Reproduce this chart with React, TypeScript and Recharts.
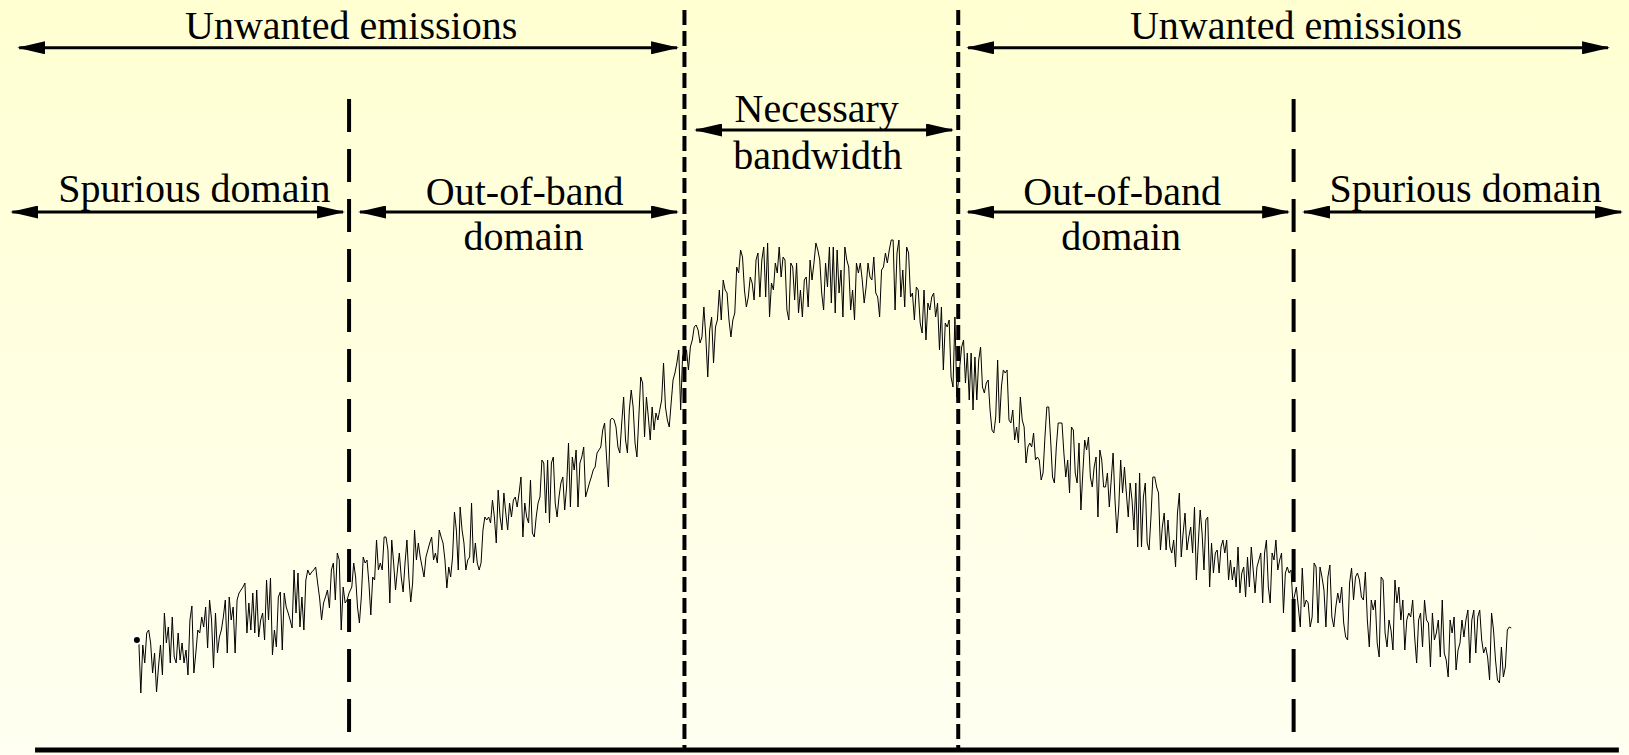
import React from 'react';
import { LineChart, Line, XAxis, YAxis, ReferenceLine, ReferenceDot } from 'recharts';

// emission level in dB, one list per frequency region
const spuriousLeft = [
  -64.0, -64.2, -69.3, -64.5, -66.3, -63.3, -63.0, -64.3, -67.3, -65.3, -69.2, -66.7, -64.5, -67.5, -61.3, -64.3,
  -62.7, -66.3, -61.7, -65.7, -66.3, -63.3, -66.0, -64.3, -66.3, -65.0, -67.5, -62.0, -60.6, -67.3, -65.3, -63.0,
  -63.3, -61.7, -62.7, -60.7, -64.8, -60.0, -62.0, -66.8, -61.3, -65.3, -63.7, -63.0, -61.7, -60.0, -65.3, -59.7,
  -62.0, -60.7, -65.3, -60.0, -59.3, -59.0, -58.7, -58.3, -63.3, -60.3, -63.0, -59.3, -63.3, -59.0, -63.7, -62.0,
  -61.3, -64.0, -58.0, -62.0, -57.8, -65.5, -63.0, -64.7, -59.7, -59.2, -65.0, -59.3, -60.7, -61.3, -62.0, -62.8,
  -57.0, -61.3, -57.3, -62.7, -59.7, -63.0, -58.0, -57.0, -57.5, -57.2, -57.0, -56.7, -58.3, -59.8, -62.0, -60.3,
  -59.7, -59.0, -60.8, -57.0, -56.3, -60.0, -55.3, -56.0, -63.0, -58.7, -60.3, -60.0, -59.3,
];

const oobLeft = [
  -58.7, -56.3, -57.7, -60.7, -62.3,
  -59.7, -55.7, -56.3, -56.0, -58.3, -61.5, -57.7, -58.0, -54.0, -57.0, -56.3, -57.0, -53.7, -53.7, -55.0, -60.3,
  -54.0, -56.3, -59.0, -57.0, -55.3, -57.7, -59.2, -56.3, -54.0, -57.7, -60.2, -58.3, -53.0, -56.0, -54.3, -55.7,
  -56.7, -57.7, -55.7, -55.0, -54.3, -53.7, -56.0, -55.3, -56.3, -53.0, -53.7, -54.3, -56.0, -58.8, -56.7, -57.7,
  -55.7, -51.2, -53.0, -57.0, -50.7, -53.0, -54.3, -57.0, -56.0, -55.7, -50.3, -56.3, -54.3, -56.3, -57.0, -56.3,
  -53.0, -51.7, -52.0, -51.7, -52.3, -50.0, -51.7, -54.3, -49.0, -51.7, -53.0, -49.3, -51.3, -53.0, -50.3, -51.7,
  -50.0, -49.7, -50.7, -49.3, -47.7, -53.7, -50.3, -51.7, -52.3, -48.0, -53.3, -53.7, -51.7, -50.3, -49.7, -46.0,
  -46.3, -51.3, -46.0, -52.3, -46.3, -45.7, -50.3, -51.7, -49.7, -48.3, -47.7, -51.0, -48.7, -44.3, -50.7, -45.7,
  -47.0, -45.0, -50.7, -46.3, -45.7, -44.7, -49.7, -49.0, -48.3, -47.7, -47.0, -46.7, -45.3, -45.0, -44.7, -43.0,
  -42.3, -45.7, -48.7, -42.0, -41.8, -42.0, -42.7, -44.7, -45.3, -42.3, -39.7, -44.0, -45.3, -41.0, -39.0, -40.7,
  -44.3, -45.7, -41.7, -37.7, -38.3, -43.7, -39.7, -41.7, -44.0, -40.7, -43.0, -41.3, -42.0, -41.0, -40.0, -36.3,
  -40.7, -42.0, -42.7, -40.3, -38.0, -37.3, -36.3, -35.0, -41.0, -35.7, -35.0,
];

const necessary = [
  -35.0, -37.0, -34.7, -34.0, -32.7, -32.5, -33.0, -34.3, -33.7, -30.7, -33.7, -37.7, -33.0, -31.7, -36.3, -32.7,
  -32.0, -29.0, -32.0, -28.0, -29.0, -29.3, -32.0, -33.7, -32.0, -31.3, -26.7, -27.3, -25.0, -25.7, -29.0, -30.7,
  -29.7, -27.7, -28.3, -30.0, -26.0, -25.3, -29.7, -26.0, -24.7, -29.7, -24.3, -31.7, -28.3, -29.0, -26.3, -27.3,
  -24.7, -27.7, -25.7, -26.0, -31.0, -32.0, -26.3, -26.7, -30.0, -26.3, -31.3, -29.0, -31.7, -28.0, -27.7, -30.7,
  -26.0, -28.0, -26.3, -24.3, -25.0, -26.0, -29.3, -31.0, -26.3, -28.7, -24.7, -30.3, -24.7, -31.3, -25.0, -29.3,
  -27.0, -31.7, -24.7, -26.0, -26.7, -31.0, -29.0, -32.0, -26.3, -27.3, -26.3, -28.0, -30.3, -28.7, -26.3, -27.7,
  -28.0, -25.7, -29.3, -29.7, -31.7, -27.0, -26.7, -25.3, -26.3, -25.0, -24.0, -24.0, -31.0, -25.3, -24.0, -29.7,
  -27.0, -30.7, -24.7, -25.3, -29.7, -29.3, -32.0, -28.7, -29.0, -32.3, -33.3, -29.0, -34.0, -30.3, -31.0, -29.7,
  -29.3, -31.7, -30.3, -35.0, -30.7, -37.0, -32.3, -32.7, -32.0, -37.7, -38.7, -31.7, -39.7,
];

const oobRight = [
  -34.7, -34.0, -38.3, -35.3, -40.0, -35.3, -41.0, -35.7, -40.0, -36.0, -34.7, -38.7, -39.3, -38.3, -38.0, -41.0,
  -43.0, -43.3, -41.7, -36.0, -42.3, -38.7, -37.0, -37.3, -37.0, -42.0, -42.3, -41.0, -44.0, -42.7, -44.3, -39.7,
  -42.0, -42.7, -46.3, -44.7, -44.3, -44.7, -43.3, -46.0, -45.7, -46.0, -48.0, -47.3, -43.7, -40.7, -40.7, -44.0,
  -47.7, -48.3, -44.7, -42.3, -42.3, -42.3, -45.3, -47.7, -46.0, -49.3, -42.7, -43.0, -47.3, -48.3, -44.3, -51.0,
  -47.3, -44.0, -45.0, -43.7, -47.7, -48.7, -46.7, -45.7, -51.7, -45.0, -46.0, -48.7, -48.7, -47.3, -50.7, -48.0,
  -45.3, -50.0, -53.3, -50.7, -46.0, -49.3, -46.7, -49.3, -51.7, -48.3, -50.0, -53.0, -48.3, -54.7, -47.3, -54.7,
  -49.7, -48.3, -54.3, -55.0, -51.7, -47.7, -47.7, -48.7, -49.3, -55.0, -52.7, -51.3, -55.0, -52.0, -54.7, -55.3,
  -54.0, -56.7, -51.3, -49.3, -55.7, -53.3, -51.3, -55.0, -53.7, -52.7, -55.3, -50.7, -58.0, -54.3, -51.0, -53.3,
  -57.0, -52.0, -51.7, -58.7, -54.3, -57.3, -55.3, -55.0, -57.3, -54.7, -54.0, -55.3, -54.0, -58.0, -56.0, -58.0,
  -56.7, -58.7, -54.7, -59.3, -57.3, -56.7, -59.7, -55.7, -58.7, -54.7, -57.0, -59.3, -56.7, -56.0, -55.3, -60.3,
  -55.3, -54.0, -58.7, -60.3, -55.3, -56.0, -54.0, -57.0, -56.0, -55.3, -61.3, -57.3, -56.7, -57.3, -57.0, -60.3,
];

const spuriousRight = [
  -58.7, -60.7, -62.7, -56.8, -60.7, -60.0, -60.3, -62.7, -61.7, -56.3, -56.7, -62.3, -56.7, -57.7, -59.0, -62.7,
  -57.7, -56.5, -61.7, -62.7, -60.7, -59.3, -60.3, -58.7, -62.3, -63.7, -64.0, -58.3, -56.8, -60.0, -57.7, -57.3,
  -58.0, -59.7, -60.0, -57.2, -62.0, -64.7, -60.0, -61.0, -60.0, -64.3, -65.7, -57.7, -58.0, -63.3, -64.7, -62.0,
  -63.0, -65.0, -58.0, -60.3, -58.7, -62.0, -60.0, -65.0, -62.0, -61.3, -61.7, -60.0, -63.7, -66.3, -62.0, -61.3,
  -64.7, -60.0, -62.0, -62.3, -66.7, -61.3, -64.0, -63.3, -62.0, -65.7, -60.0, -65.3, -66.0, -67.7, -62.0, -63.3,
  -61.7, -67.0, -65.0, -64.3, -62.0, -63.7, -62.0, -61.0, -66.3, -62.0, -61.0, -65.3, -61.7, -61.0, -64.0, -65.3,
  -64.7, -65.7, -68.0, -61.3, -63.0, -66.0, -68.0, -68.3, -64.7, -67.7, -66.7, -63.0, -62.7, -62.8,
];

// frequency span of each list, in half-bandwidths from the carrier
const regions = [
  { from: -5.0, to: -3.45, levels: spuriousLeft },
  { from: -3.43, to: -1.0, levels: oobLeft },
  { from: -0.985, to: 0.99, levels: necessary },
  { from: 1.025, to: 3.445, levels: oobRight },
  { from: 3.47, to: 5.04, levels: spuriousRight },
];

const data = regions.flatMap((r) =>
  r.levels.map((level, i) => ({
    f: r.from + (i * (r.to - r.from)) / (r.levels.length - 1),
    level,
  }))
);

const bandEdges = [-1, 1];
const domainEdges = [-3.45, 3.45];

const arrows = [
  { from: -5.86, to: -1.054, level: -4.78 },
  { from: 1.072, to: 5.747, level: -4.78 },
  { from: -0.915, to: 0.955, level: -13.0 },
  { from: -5.91, to: -3.494, level: -21.2 },
  { from: -3.37, to: -1.054, level: -21.2 },
  { from: 1.072, to: 3.41, level: -21.2 },
  { from: 3.526, to: 5.842, level: -21.2 },
];

const labels = [
  { text: 'Unwanted emissions', f: -3.435, level: -2.5 },
  { text: 'Unwanted emissions', f: 3.468, level: -2.5 },
  { text: 'Necessary', f: -0.034, level: -10.8 },
  { text: 'bandwidth', f: -0.026, level: -15.5 },
  { text: 'Spurious domain', f: -4.58, level: -18.8 },
  { text: 'Spurious domain', f: 4.706, level: -18.8 },
  { text: 'Out-of-band', f: -2.167, level: -19.1 },
  { text: 'domain', f: -2.175, level: -23.6 },
  { text: 'Out-of-band', f: 2.197, level: -19.1 },
  { text: 'domain', f: 2.19, level: -23.6 },
];

const serif = '"Liberation Serif", "Times New Roman", serif';

const Arrow = (p: any) => (
  <line
    x1={p.x1}
    y1={p.y1}
    x2={p.x2}
    y2={p.y2}
    stroke="#000"
    strokeWidth={3}
    markerStart="url(#head)"
    markerEnd="url(#head)"
  />
);

export default function App() {
  return (
    <div
      style={{
        position: 'absolute',
        left: 0,
        top: 0,
        width: 1629,
        height: 755,
        background: 'linear-gradient(#ffffd2, #fffff2)',
      }}
    >
      <svg width={0} height={0} style={{ position: 'absolute' }}>
        <defs>
          <marker
            id="head"
            viewBox="0 0 28 13"
            refX={26}
            refY={6.5}
            markerWidth={28}
            markerHeight={13}
            markerUnits="userSpaceOnUse"
            orient="auto-start-reverse"
          >
            <path d="M0,0 L28,6.5 L0,13 Z" fill="#000" />
          </marker>
        </defs>
      </svg>
      <LineChart width={1629} height={755} data={data} margin={{ top: 0, right: 0, bottom: 5, left: 0 }}>
        <XAxis dataKey="f" type="number" domain={[-6, 5.9]} allowDataOverflow hide />
        <YAxis type="number" domain={[-75, 0]} allowDataOverflow hide />
        {bandEdges.map((f) => (
          <ReferenceLine
            key={'b' + f}
            segment={[{ x: f, y: -1 }, { x: f, y: -74.8 }]}
            stroke="#000"
            strokeWidth={4}
            strokeDasharray="15 6"
          />
        ))}
        {domainEdges.map((f) => (
          <ReferenceLine
            key={'d' + f}
            segment={[{ x: f, y: -9.9 }, { x: f, y: -74 }]}
            stroke="#000"
            strokeWidth={4}
            strokeDasharray="33 17"
          />
        ))}
        <ReferenceLine
          segment={[{ x: -5.744, y: -75 }, { x: 5.826, y: -75 }]}
          stroke="#000"
          strokeWidth={5}
        />
        {arrows.map((a, i) => (
          <ReferenceLine
            key={'a' + i}
            segment={[{ x: a.from, y: a.level }, { x: a.to, y: a.level }]}
            shape={Arrow}
          />
        ))}
        <Line
          dataKey="level"
          type="linear"
          stroke="#000"
          strokeWidth={1}
          dot={false}
          isAnimationActive={false}
        />
        {labels.map((l, i) => (
          <ReferenceDot
            key={'l' + i}
            x={l.f}
            y={l.level}
            r={0}
            fill="none"
            stroke="none"
            label={{ value: l.text, position: 'center', fill: '#000', fontSize: 40, fontFamily: serif }}
          />
        ))}
      </LineChart>
    </div>
  );
}
